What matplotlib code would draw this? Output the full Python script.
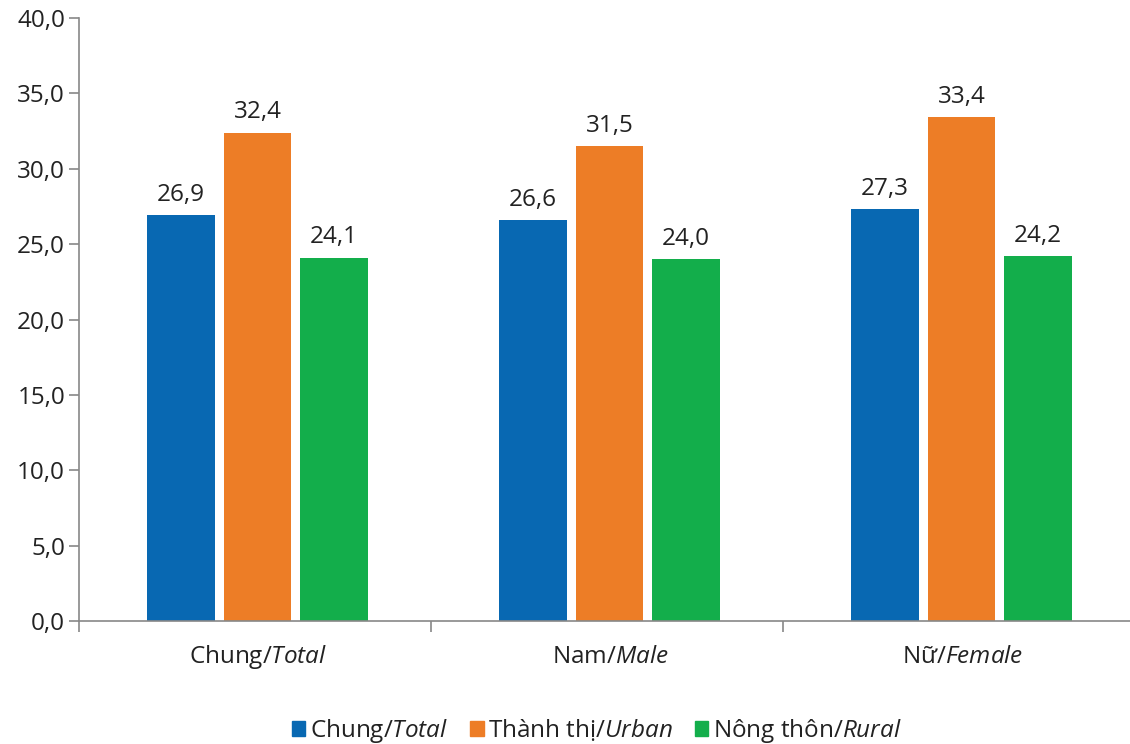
import matplotlib
matplotlib.use("Agg")
import matplotlib.pyplot as plt
import numpy as np
from matplotlib.ticker import FixedLocator, FuncFormatter
from matplotlib.patches import Patch

plt.rcParams['font.family'] = ['Open Sans', 'DejaVu Sans']
plt.rcParams['mathtext.fontset'] = 'custom'
plt.rcParams['mathtext.rm'] = 'Open Sans'
plt.rcParams['mathtext.it'] = 'Open Sans:italic'

cat_plain = ["Chung", "Nam", "Nữ"]
cat_italic = ["Total", "Male", "Female"]
series_names = [("Chung", "Total"), ("Thành thị", "Urban"), ("Nông thôn", "Rural")]
total = [26.9, 26.6, 27.3]
urban = [32.4, 31.5, 33.4]
rural = [24.1, 24.0, 24.2]
series = [total, urban, rural]
colors = ["#0868B2", "#ED7D26", "#13AE4B"]

FS = 17.5
TXT = "#222222"
GRID = "#888888"

fig = plt.figure(figsize=(11.3, 7.44), dpi=100)
ax = fig.add_axes([79/1130, (744-621)/744, (1135-79)/1130, (621-18)/744])

x = np.arange(len(cat_plain))
width = 0.192
step = 0.218
offsets = [-step, 0.0, step]
for vals, off, col in zip(series, offsets, colors):
    bars = ax.bar(x + off + 0.007, vals, width=width, color=col, zorder=2)
    for b, v in zip(bars, vals):
        ax.annotate(f"{v:.1f}".replace(".", ","),
                    (b.get_x() + b.get_width()/2, v),
                    xytext=(0, 6), textcoords="offset points",
                    ha="center", va="bottom", fontsize=FS, color=TXT)

ax.set_xlim(-0.5, 2.5)
ax.set_ylim(0, 40)
ax.set_yticks(np.arange(0, 40.1, 5))
ax.yaxis.set_major_formatter(FuncFormatter(lambda v, p: f"{v:.1f}".replace(".", ",")))
ax.tick_params(axis="y", labelsize=FS, colors=TXT, length=7, width=1.2,
               color=GRID, pad=3)

ax.set_xticks(x)
ax.set_xticklabels([""] * 3)
ax.tick_params(axis="x", length=0)
ax.xaxis.set_minor_locator(FixedLocator([-0.5, 0.5, 1.5, 2.5]))
ax.tick_params(axis="x", which="minor", length=8, width=1.2, color=GRID, direction="out")

# category labels: upright Vietnamese part + italic English part
for xi, p, it in zip(x, cat_plain, cat_italic):
    ax.annotate(f"{p}/$\\it{{{it}}}$", (xi + 0.009, 0), xycoords=("data", "axes fraction"),
                xytext=(0, -26), textcoords="offset points",
                ha="center", va="center", fontsize=FS, color=TXT)

for s in ["top", "right"]:
    ax.spines[s].set_visible(False)
for s in ["left", "bottom"]:
    ax.spines[s].set_color(GRID)
    ax.spines[s].set_linewidth(1.2)

handles = [Patch(color=c) for c in colors]
labels = [f"{a}/$\\it{{{b}}}$" for a, b in series_names]
leg = fig.legend(handles, labels, loc="center", bbox_to_anchor=(597/1130, 1 - 731/744),
                 ncol=3, frameon=False, fontsize=FS, handlelength=0.55, handleheight=0.55,
                 handletextpad=0.2, columnspacing=0.9)
for t in leg.get_texts():
    t.set_color(TXT)

fig.savefig("out.png", dpi=100)
